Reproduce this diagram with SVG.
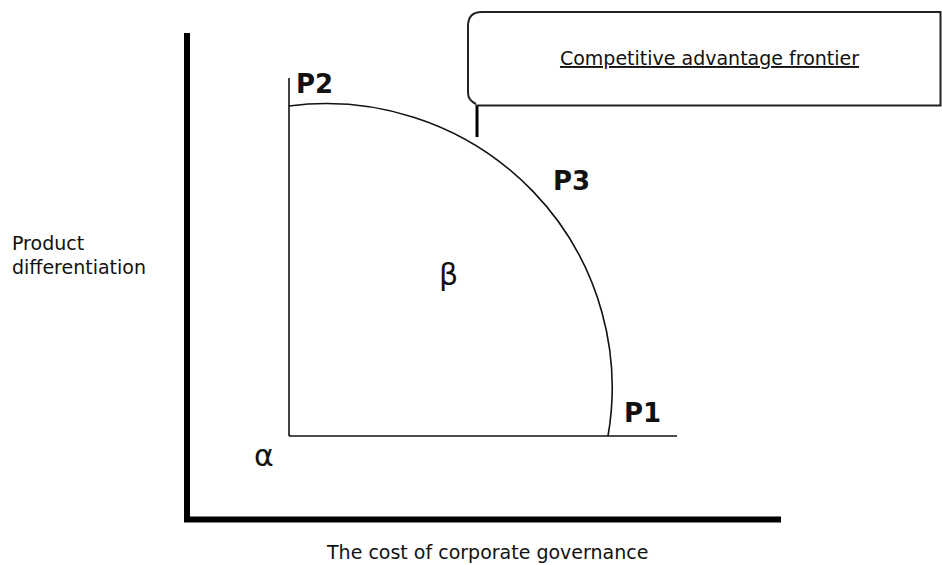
<svg xmlns="http://www.w3.org/2000/svg" width="942" height="565" viewBox="0 0 942 565">
  <style>
    text { font-family: "DejaVu Sans", "Liberation Sans", sans-serif; fill: #111; }
    .lbl { font-size: 19px; }
    .pt { font-size: 26px; font-weight: bold; }
    .greek { font-size: 30px; }
    .thin { fill: none; stroke: #111; stroke-width: 1.6; }
    .thick { fill: none; stroke: #000; stroke-width: 6; }
  </style>
  <rect width="942" height="565" fill="#fff"/>

  <g id="axes">
    <line class="thick" x1="187" y1="33" x2="187" y2="522"/>
    <line class="thick" x1="184" y1="519.5" x2="781" y2="519.5"/>
  </g>

  <g id="inner-axes">
    <line class="thin" x1="289" y1="78" x2="289" y2="436"/>
    <line class="thin" x1="289" y1="436" x2="677" y2="436"/>
  </g>

  <g id="connectors">
    <path id="frontier" class="thin" d="M289,106 A286,284 0 0 1 608,436"/>
    <line id="callout-tail" x1="477" y1="104" x2="477" y2="137" stroke="#000" stroke-width="3"/>
  </g>

  <g id="callout">
    <path d="M477,105.5 L940.5,105.5 L940.5,12 L482,12 Q468,12 468,26 L468,93 Q468,100 476,104" fill="#fff" stroke="#222" stroke-width="2"/>
    <text class="lbl" x="709.5" y="65" text-anchor="middle" text-decoration="underline">Competitive advantage frontier</text>
  </g>

  <g id="labels">
    <text class="pt" x="296" y="93">P2</text>
    <text class="pt" x="553" y="190">P3</text>
    <text class="pt" x="624" y="422">P1</text>
    <text class="greek" x="254" y="466">α</text>
    <text class="greek" x="439" y="285">β</text>
    <text class="lbl" x="12" y="250">Product</text>
    <text class="lbl" x="12" y="274">differentiation</text>
    <text class="lbl" x="327" y="559">The cost of corporate governance</text>
  </g>
</svg>
